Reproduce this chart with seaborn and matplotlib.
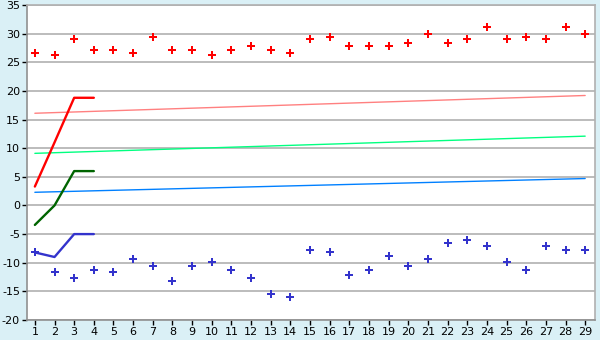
import matplotlib
matplotlib.use("Agg")
import matplotlib.pyplot as plt
import seaborn as sns
import pandas as pd

days = list(range(1, 30))
high = [26.7, 26.2, 29.0, 27.2, 27.2, 26.7, 29.4, 27.2, 27.2, 26.2,
        27.2, 27.8, 27.2, 26.7, 29.0, 29.4, 27.8, 27.8, 27.8, 28.3,
        30.0, 28.3, 29.0, 31.1, 29.0, 29.4, 29.0, 31.1, 30.0]
low = [-8.2, -11.7, -12.7, -11.2, -11.7, -9.4, -10.6, -13.2, -10.6, -9.9,
       -11.2, -12.7, -15.5, -16.0, -7.8, -8.2, -12.2, -11.2, -8.9, -10.6,
       -9.4, -6.6, -6.1, -7.1, -9.9, -11.2, -7.1, -7.8, -7.8]

short_x = [1, 2, 3, 4]
short_red = [3.3, 11.0, 18.8, 18.8]
short_green = [-3.4, 0.0, 6.0, 6.0]
short_blue = [-8.2, -9.0, -5.0, -5.0]

trend_x = [1, 29]
trend_pink = [16.1, 19.2]
trend_green = [9.1, 12.1]
trend_blue = [2.3, 4.7]

yticks = list(range(-20, 36, 5))

sns.set_theme(style="white")
plt.rcParams['font.family'] = ['DejaVu Sans']
plt.rcParams['axes.unicode_minus'] = False

bg = "#daf0f6"
fig = plt.figure(figsize=(6, 3.4), dpi=100, facecolor=bg)
ax = fig.add_axes([27/600, 20/340, 568/600, 315/340])
ax.set_facecolor("white")

for y in yticks:
    ax.axhline(y, color="#b0b0b0", lw=1.2, zorder=0)

tl = pd.DataFrame({"x": trend_x, "pink": trend_pink, "green": trend_green, "blue": trend_blue})
sns.lineplot(data=tl, x="x", y="pink", color="#ff8080", lw=1.0, ax=ax)
sns.lineplot(data=tl, x="x", y="green", color="#00ff80", lw=1.0, ax=ax)
sns.lineplot(data=tl, x="x", y="blue", color="#0080ff", lw=1.0, ax=ax)

sl = pd.DataFrame({"x": short_x, "r": short_red, "g": short_green, "b": short_blue})
sns.lineplot(data=sl, x="x", y="r", color="#ff0000", lw=1.7, ax=ax)
sns.lineplot(data=sl, x="x", y="g", color="#006400", lw=1.7, ax=ax)
sns.lineplot(data=sl, x="x", y="b", color="#3333cc", lw=1.7, ax=ax)

pts = pd.DataFrame({"day": days, "high": high, "low": low})
sns.scatterplot(data=pts, x="day", y="high", color="#ff0000", marker="P", s=26, linewidth=0, ax=ax, zorder=5)
sns.scatterplot(data=pts, x="day", y="low", color="#3333cc", marker="P", s=26, linewidth=0, ax=ax, zorder=5)

ax.set_xlim(0.6, 29.5)
ax.set_ylim(-20, 35)
ax.set_xticks(days)
ax.set_yticks(yticks)
ax.set_xlabel("")
ax.set_ylabel("")
ax.tick_params(axis="both", which="both", direction="out", length=3.5, width=1,
               colors="black", labelsize=8, pad=1.5, bottom=True, left=True)
for side in ["left", "bottom"]:
    ax.spines[side].set_color("#909090")
    ax.spines[side].set_linewidth(1.2)
for side in ["top", "right"]:
    ax.spines[side].set_color("#b0b0b0")
    ax.spines[side].set_linewidth(1.2)

fig.savefig("out.png", dpi=100, facecolor=bg)
